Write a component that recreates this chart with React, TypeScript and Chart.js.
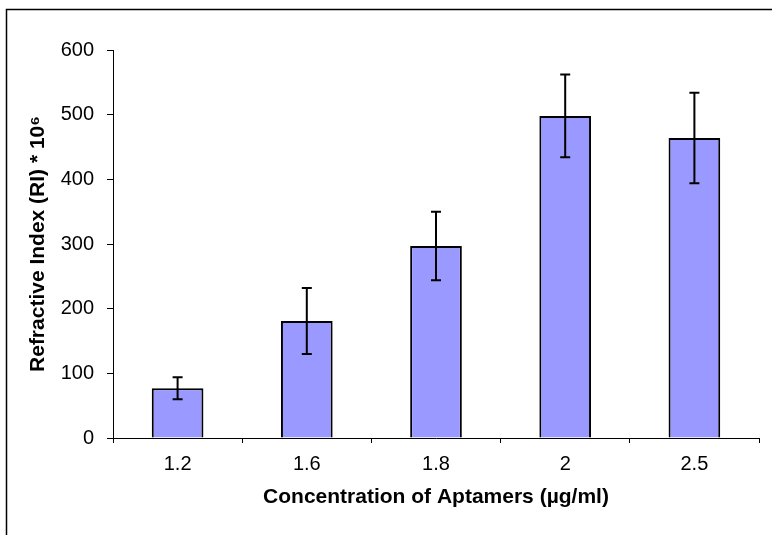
import React, { useEffect, useRef } from "react";
import { Chart, registerables } from "chart.js";

Chart.register(...registerables);

const categories = ["1.2", "1.6", "1.8", "2", "2.5"];
const values = [77, 181, 297, 498, 464];
const errors = [17, 51, 53, 64, 70];
const yTitle = "Refractive Index (RI) * 10⁶";
const xTitle = "Concentration of Aptamers (µg/ml)";

const errorBarPlugin = {
  id: "errorBars",
  afterDatasetsDraw(chart: any) {
    const meta = chart.getDatasetMeta(0);
    const y = chart.scales.y;
    const ctx = chart.ctx;
    ctx.save();
    ctx.strokeStyle = "#000";
    ctx.lineWidth = 2;
    meta.data.forEach((bar: any, i: number) => {
      const x = bar.x;
      const top = y.getPixelForValue(values[i] + errors[i]);
      const bottom = y.getPixelForValue(values[i] - errors[i]);
      ctx.beginPath();
      ctx.moveTo(x, top);
      ctx.lineTo(x, bottom);
      ctx.moveTo(x - 5, top);
      ctx.lineTo(x + 5, top);
      ctx.moveTo(x - 5, bottom);
      ctx.lineTo(x + 5, bottom);
      ctx.stroke();
    });
    ctx.restore();
  },
};

const framePlugin = {
  id: "frame",
  beforeDraw(chart: any) {
    const ctx = chart.ctx;
    ctx.save();
    ctx.fillStyle = "#fff";
    ctx.fillRect(0, 0, chart.width, chart.height);
    ctx.strokeStyle = "#000";
    ctx.lineWidth = 1.5;
    ctx.beginPath();
    ctx.moveTo(6.5, chart.height);
    ctx.lineTo(6.5, 9.5);
    ctx.lineTo(chart.width, 9.5);
    ctx.stroke();
    ctx.restore();
  },
};

const family = "'Liberation Sans', Arial, sans-serif";

export default function App() {
  const ref = useRef<HTMLCanvasElement>(null);
  useEffect(() => {
    const chart = new Chart(ref.current as HTMLCanvasElement, {
      type: "bar",
      data: {
        labels: categories,
        datasets: [
          {
            data: values,
            backgroundColor: "#9999FF",
            borderColor: "#000",
            borderWidth: 2,
            categoryPercentage: 1,
            barPercentage: 0.4,
          },
        ],
      },
      options: {
        animation: false,
        responsive: false,
        layout: { padding: { left: 0, top: 50, right: 13, bottom: 0 } },
        plugins: { legend: { display: false }, tooltip: { enabled: false } },
        scales: {
          x: {
            afterFit: (s: any) => {
              s.height = 97;
            },
            grid: {
              display: true,
              drawOnChartArea: false,
              drawTicks: true,
              tickLength: 5,
              color: "#000",
              offset: true,
            },
            border: { display: true, color: "#000", width: 1 },
            ticks: {
              color: "#000",
              padding: 9,
              font: { family, size: 20 },
            },
            title: {
              display: true,
              text: xTitle,
              color: "#000",
              padding: { top: 0, bottom: 25 },
              font: { family, size: 21, weight: "bold" },
            },
          },
          y: {
            min: 0,
            max: 600,
            afterFit: (s: any) => {
              s.width = 113;
            },
            grid: {
              display: true,
              drawOnChartArea: false,
              drawTicks: true,
              tickLength: 6,
              color: "#000",
            },
            border: { display: true, color: "#000", width: 1 },
            ticks: {
              stepSize: 100,
              color: "#000",
              padding: 13,
              font: { family, size: 20 },
            },
            title: {
              display: true,
              text: yTitle,
              color: "#000",
              padding: { top: 26, bottom: 0 },
              font: { family, size: 21, weight: "bold" },
            },
          },
        },
      },
      plugins: [framePlugin, errorBarPlugin],
    } as any);
    return () => chart.destroy();
  }, []);
  return (
    <div style={{ position: "fixed", left: 0, top: 0, width: 772, height: 535 }}>
      <canvas ref={ref} width={772} height={535} style={{ display: "block" }} />
    </div>
  );
}
